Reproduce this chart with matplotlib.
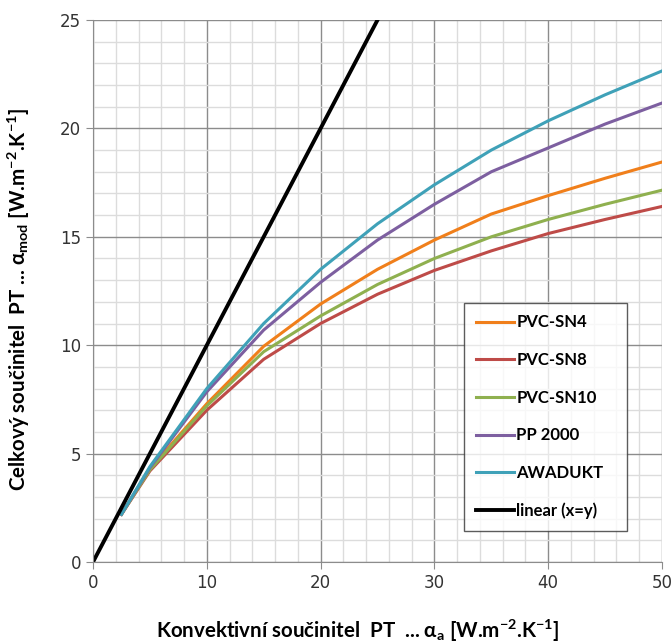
import numpy as np
import matplotlib
matplotlib.use("Agg")
import matplotlib.pyplot as plt
from matplotlib.ticker import MultipleLocator

# fonts (Calibri-like look)
plt.rcParams.update({'font.family': ['Lato', 'DejaVu Sans'],
                     'mathtext.fontset': 'custom',
                     'mathtext.rm': 'Lato:bold',
                     'mathtext.it': 'Lato:bold',
                     'mathtext.bf': 'Lato:bold'})

# data
x = [2.5, 5, 10, 15, 20, 25, 30, 35, 40, 45, 50]
pvc_sn4 = [2.2, 4.3, 7.3, 9.95, 11.9, 13.5, 14.85, 16.05, 16.9, 17.7, 18.45]
pvc_sn8 = [2.2, 4.2, 7.0, 9.35, 11.0, 12.35, 13.45, 14.35, 15.15, 15.8, 16.4]
pvc_sn10 = [2.2, 4.25, 7.2, 9.7, 11.35, 12.8, 14.0, 15.0, 15.8, 16.5, 17.15]
pp2000 = [2.2, 4.35, 7.85, 10.7, 12.9, 14.85, 16.5, 18.0, 19.1, 20.2, 21.17]
awadukt = [2.2, 4.4, 8.0, 11.0, 13.5, 15.6, 17.4, 19.0, 20.35, 21.55, 22.65]
lin_x = [0, 50]

series = [('PVC-SN4', pvc_sn4, '#f07f1b'),
          ('PVC-SN8', pvc_sn8, '#be4b48'),
          ('PVC-SN10', pvc_sn10, '#8fb04f'),
          ('PP 2000', pp2000, '#7d5fa0'),
          ('AWADUKT', awadukt, '#3fa1b8')]

fig = plt.figure(figsize=(6.72, 6.43), dpi=100)
ax = fig.add_axes([93/672, 81/643, 569/672, 542/643])

for name, vals, col in series:
    ax.plot(x, vals, color=col, lw=2.2, label=name)
ax.plot(lin_x, lin_x, color='black', lw=2.8, label='linear (x=y)')

ax.set_xlim(0, 50)
ax.set_ylim(0, 25)
ax.xaxis.set_major_locator(MultipleLocator(10))
ax.xaxis.set_minor_locator(MultipleLocator(2))
ax.yaxis.set_major_locator(MultipleLocator(5))
ax.yaxis.set_minor_locator(MultipleLocator(1))
ax.grid(which='major', color='#8c8c8c', lw=1.0)
ax.grid(which='minor', color='#dcdcdc', lw=1.0)
ax.set_axisbelow(True)

for s in ['top', 'right']:
    ax.spines[s].set_visible(False)
for s in ['left', 'bottom']:
    ax.spines[s].set_color('#8c8c8c')
ax.tick_params(which='major', length=5, color='#8c8c8c', labelsize=12,
               labelfontfamily='DejaVu Sans', labelcolor='#333333')
ax.tick_params(which='minor', length=0)

ax.set_xlabel(r'Konvektivní součinitel  PT  ... $\alpha_{\mathrm{a}}$ [W.m$^{\mathrm{-2}}$.K$^{\mathrm{-1}}$]',
              fontsize=14.8, fontweight='bold')
ax.set_ylabel(r'Celkový součinitel  PT ... $\alpha_{\mathrm{mod}}$ [W.m$^{\mathrm{-2}}$.K$^{\mathrm{-1}}$]',
              fontsize=14.8, fontweight='bold')
ax.xaxis.set_label_coords(0.465, -0.103)
ax.yaxis.set_label_coords(-0.107, 0.485)

leg = ax.legend(loc='lower left', bbox_to_anchor=(464/672, (643-531)/643, 163/672, 224/643),
                bbox_transform=fig.transFigure, mode='expand', borderaxespad=0,
                frameon=True, fancybox=False, edgecolor='#333333',
                prop={'weight': 'bold', 'size': 12}, handlelength=2.3,
                labelspacing=1.3, borderpad=0.7, handletextpad=0.15)
leg.get_frame().set_linewidth(1.0)

fig.savefig('out.png', dpi=100)
